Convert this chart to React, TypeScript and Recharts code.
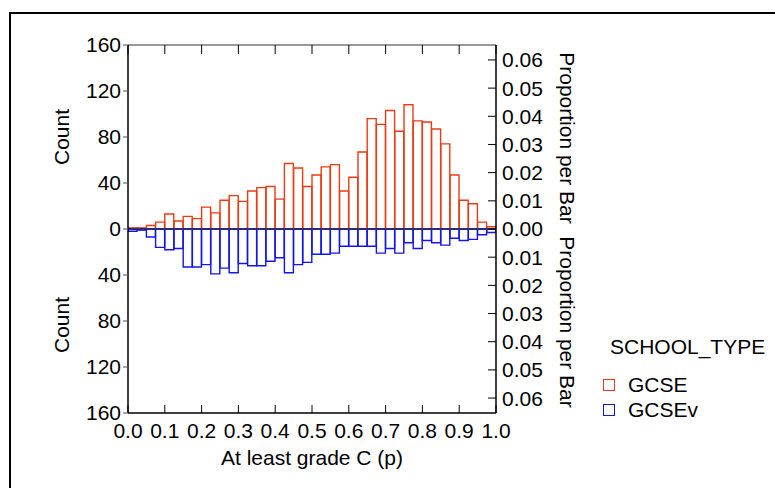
import { Bar, BarChart, ReferenceLine, XAxis, YAxis } from "recharts"

const binLow = [
  0, 0.025, 0.05, 0.075, 0.1, 0.125, 0.15, 0.175, 0.2, 0.225,
  0.25, 0.275, 0.3, 0.325, 0.35, 0.375, 0.4, 0.425, 0.45, 0.475,
  0.5, 0.525, 0.55, 0.575, 0.6, 0.625, 0.65, 0.675, 0.7, 0.725,
  0.75, 0.775, 0.8, 0.825, 0.85, 0.875, 0.9, 0.925, 0.95, 0.975,
]
const binWidth = 0.025

const gcse = [
  1, 1, 3, 6, 13, 7, 11, 9, 19, 14,
  25, 29, 24, 33, 36, 37, 26, 57, 53, 37,
  47, 54, 56, 33, 45, 67, 96, 91, 103, 85,
  108, 94, 93, 87, 74, 47, 25, 22, 6, 2,
]
const gcsev = [
  2, 1, 7, 16, 18, 17, 33, 33, 31, 39,
  34, 38, 30, 32, 32, 28, 25, 38, 31, 29,
  22, 22, 21, 15, 15, 15, 15, 21, 17, 21,
  12, 17, 10, 12, 14, 8, 10, 9, 5, 3,
]

const xTicks = [0, 0.1, 0.2, 0.3, 0.4, 0.5, 0.6, 0.7, 0.8, 0.9, 1]
const countTicks = [-160, -120, -80, -40, 0, 40, 80, 120, 160]
const propTicks = [-0.06, -0.05, -0.04, -0.03, -0.02, -0.01, 0, 0.01, 0.02, 0.03, 0.04, 0.05, 0.06]

const RED = "#ee3a12"
const BLUE = "#1414ee"
const FONT = "'Liberation Sans', Arial, sans-serif"

const data = binLow.map((lo, i) => ({
  mid: lo + binWidth / 2,
  gcse: gcse[i],
  gcsev: -gcsev[i],
}))

const tickStyle = { fill: "#000", fontSize: 21, fontFamily: FONT }

const textStyle = { fontSize: 21, fontFamily: FONT, fill: "#000" }

function LeftTitle() {
  return (
    <g>
      <text x={61} y={137} transform="rotate(-90 61 137)" textAnchor="middle" dominantBaseline="central" style={textStyle}>
        Count
      </text>
      <text x={61} y={325} transform="rotate(-90 61 325)" textAnchor="middle" dominantBaseline="central" style={textStyle}>
        Count
      </text>
    </g>
  )
}

function RightTitle() {
  return (
    <g>
      <text x={567} y={138} transform="rotate(90 567 138)" textAnchor="middle" dominantBaseline="central" style={textStyle}>
        Proportion per Bar
      </text>
      <text x={567} y={322} transform="rotate(90 567 322)" textAnchor="middle" dominantBaseline="central" style={textStyle}>
        Proportion per Bar
      </text>
    </g>
  )
}

function BottomTitle() {
  return (
    <text x={312} y={465} textAnchor="middle" style={textStyle}>
      At least grade C (p)
    </text>
  )
}

export default function App() {
  return (
    <div style={{ position: "absolute", left: 0, top: 0, width: 775, height: 488, overflow: "hidden", background: "#fff" }}>
      <div style={{ position: "absolute", left: 9, top: 12, width: 800, height: 520, border: "2px solid #000" }} />
      <div style={{ position: "absolute", left: 0, top: 0 }}>
        <BarChart
          width={775}
          height={488}
          data={data}
          margin={{ top: 35, right: 209, bottom: 45, left: 68 }}
          stackOffset="sign"
          barCategoryGap={0}
          barGap={0}
        >
          <XAxis
            xAxisId="bottom"
            dataKey="mid"
            type="number"
            domain={[0, 1]}
            ticks={xTicks}
            tickFormatter={(v: number) => v.toFixed(1)}
            tickSize={-8}
            tickMargin={18}
            height={30}
            axisLine={{ stroke: "#000", strokeWidth: 1.5 }}
            tickLine={{ stroke: "#000" }}
            tick={tickStyle}
            allowDataOverflow
            interval={0}
            label={{ content: () => <BottomTitle /> }}
          />
          <XAxis
            xAxisId="top"
            orientation="top"
            dataKey="mid"
            type="number"
            domain={[0, 1]}
            ticks={xTicks}
            tickFormatter={() => ""}
            tickSize={-9}
            height={10}
            axisLine={{ stroke: "#777", strokeWidth: 1.5 }}
            tickLine={{ stroke: "#000" }}
            allowDataOverflow
            interval={0}
          />
          <YAxis
            yAxisId="count"
            type="number"
            domain={[-160, 160]}
            ticks={countTicks}
            tickFormatter={(v: number) => String(Math.abs(v))}
            tickSize={5}
            tickMargin={2}
            width={60}
            axisLine={{ stroke: "#000", strokeWidth: 1.5 }}
            tickLine={{ stroke: "#555" }}
            tick={tickStyle}
            allowDataOverflow
            interval={0}
            label={{ content: () => <LeftTitle /> }}
          />
          <YAxis
            yAxisId="prop"
            orientation="right"
            type="number"
            domain={[-0.0653, 0.0653]}
            ticks={propTicks}
            tickFormatter={(v: number) => Math.abs(v).toFixed(2)}
            tickSize={-8}
            tickMargin={14}
            width={70}
            axisLine={{ stroke: "#000", strokeWidth: 1.5 }}
            tickLine={{ stroke: "#000" }}
            tick={tickStyle}
            allowDataOverflow
            interval={0}
            label={{ content: () => <RightTitle /> }}
          />
          <Bar
            xAxisId="bottom"
            yAxisId="count"
            dataKey="gcse"
            stackId="s"
            fill="none"
            stroke={RED}
            strokeWidth={1.4}
            isAnimationActive={false}
          />
          <Bar
            xAxisId="bottom"
            yAxisId="count"
            dataKey="gcsev"
            stackId="s"
            fill="none"
            stroke={BLUE}
            strokeWidth={1.4}
            isAnimationActive={false}
          />
          <ReferenceLine xAxisId="bottom" yAxisId="count" y={0} stroke="#2a2a80" strokeWidth={2} />
        </BarChart>
      </div>
      <div style={{ position: "absolute", left: 610, top: 334, fontFamily: FONT, fontSize: 21, lineHeight: "26px", whiteSpace: "nowrap" }}>
        SCHOOL_TYPE
      </div>
      <div style={{ position: "absolute", left: 603, top: 379, width: 10, height: 10, border: `1.5px solid ${RED}` }} />
      <div style={{ position: "absolute", left: 628, top: 372, fontFamily: FONT, fontSize: 21, lineHeight: "26px" }}>GCSE</div>
      <div style={{ position: "absolute", left: 603, top: 404, width: 10, height: 10, border: `1.5px solid ${BLUE}` }} />
      <div style={{ position: "absolute", left: 628, top: 397, fontFamily: FONT, fontSize: 21, lineHeight: "26px" }}>GCSEv</div>
    </div>
  )
}
